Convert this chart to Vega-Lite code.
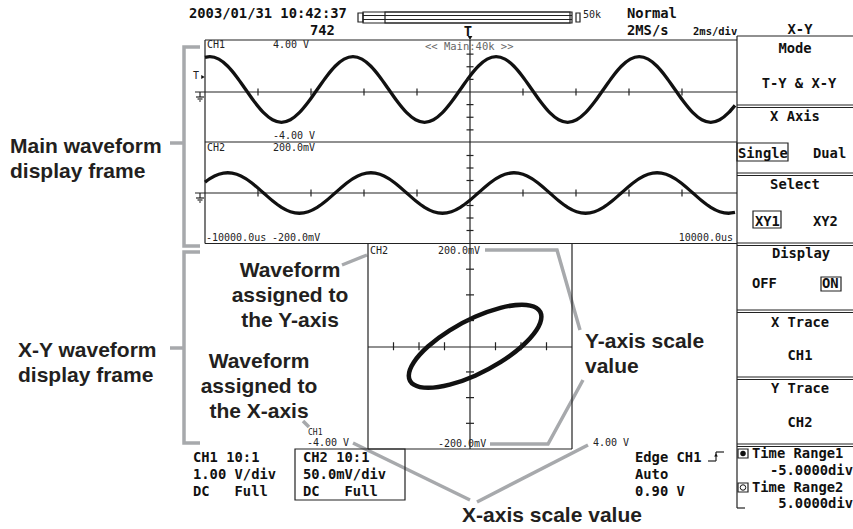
{
 "$schema": "https://vega.github.io/schema/vega-lite/v6.json",
 "width": 853, "height": 529, "padding": 0, "autosize": {"type": "none"},
 "background": "#ffffff",
 "config": {"view": {"stroke": null}},
 "datasets": {
  "wave": [
   {"t":-10,"ch1":2.74,"ch2":43.7},
   {"t":-9.815,"ch1":2.8,"ch2":57.3},{"t":-9.4775,"ch1":2.602,"ch2":74.8},{"t":-9.14,"ch1":2.038,"ch2":81},{"t":-8.8025,"ch1":1.195,"ch2":74.8},
   {"t":-8.465,"ch1":0.2,"ch2":57.3},{"t":-8.1275,"ch1":-0.795,"ch2":31},{"t":-7.79,"ch1":-1.638,"ch2":0},{"t":-7.4525,"ch1":-2.202,"ch2":-31},
   {"t":-7.115,"ch1":-2.4,"ch2":-57.3},{"t":-6.7775,"ch1":-2.202,"ch2":-74.8},{"t":-6.44,"ch1":-1.638,"ch2":-81},{"t":-6.1025,"ch1":-0.795,"ch2":-74.8},
   {"t":-5.765,"ch1":0.2,"ch2":-57.3},{"t":-5.4275,"ch1":1.195,"ch2":-31},{"t":-5.09,"ch1":2.038,"ch2":0},{"t":-4.7525,"ch1":2.602,"ch2":31},
   {"t":-4.415,"ch1":2.8,"ch2":57.3},{"t":-4.0775,"ch1":2.602,"ch2":74.8},{"t":-3.74,"ch1":2.038,"ch2":81},{"t":-3.4025,"ch1":1.195,"ch2":74.8},
   {"t":-3.065,"ch1":0.2,"ch2":57.3},{"t":-2.7275,"ch1":-0.795,"ch2":31},{"t":-2.39,"ch1":-1.638,"ch2":0},{"t":-2.0525,"ch1":-2.202,"ch2":-31},
   {"t":-1.715,"ch1":-2.4,"ch2":-57.3},{"t":-1.3775,"ch1":-2.202,"ch2":-74.8},{"t":-1.04,"ch1":-1.638,"ch2":-81},{"t":-0.7025,"ch1":-0.795,"ch2":-74.8},
   {"t":-0.365,"ch1":0.2,"ch2":-57.3},{"t":-0.0275,"ch1":1.195,"ch2":-31},{"t":0.31,"ch1":2.038,"ch2":0},{"t":0.6475,"ch1":2.602,"ch2":31},
   {"t":0.985,"ch1":2.8,"ch2":57.3},{"t":1.3225,"ch1":2.602,"ch2":74.8},{"t":1.66,"ch1":2.038,"ch2":81},{"t":1.9975,"ch1":1.195,"ch2":74.8},
   {"t":2.335,"ch1":0.2,"ch2":57.3},{"t":2.6725,"ch1":-0.795,"ch2":31},{"t":3.01,"ch1":-1.638,"ch2":0},{"t":3.3475,"ch1":-2.202,"ch2":-31},
   {"t":3.685,"ch1":-2.4,"ch2":-57.3},{"t":4.0225,"ch1":-2.202,"ch2":-74.8},{"t":4.36,"ch1":-1.638,"ch2":-81},{"t":4.6975,"ch1":-0.795,"ch2":-74.8},
   {"t":5.035,"ch1":0.2,"ch2":-57.3},{"t":5.3725,"ch1":1.195,"ch2":-31},{"t":5.71,"ch1":2.038,"ch2":0},{"t":6.0475,"ch1":2.602,"ch2":31},
   {"t":6.385,"ch1":2.8,"ch2":57.3},{"t":6.7225,"ch1":2.602,"ch2":74.8},{"t":7.06,"ch1":2.038,"ch2":81},{"t":7.3975,"ch1":1.195,"ch2":74.8},
   {"t":7.735,"ch1":0.2,"ch2":57.3},{"t":8.0725,"ch1":-0.795,"ch2":31},{"t":8.41,"ch1":-1.638,"ch2":0},{"t":8.7475,"ch1":-2.202,"ch2":-31},
   {"t":9.085,"ch1":-2.4,"ch2":-57.3},{"t":9.4225,"ch1":-2.202,"ch2":-74.8},{"t":9.76,"ch1":-1.638,"ch2":-81},
   {"t":10,"ch1":-1.06,"ch2":-77.9}
  ],
  "tt": [{"t":-8,"ch1":0,"ch2":0},{"t":-6,"ch1":0,"ch2":0},{"t":-4,"ch1":0,"ch2":0},{"t":-2,"ch1":0,"ch2":0},{"t":2,"ch1":0,"ch2":0},{"t":4,"ch1":0,"ch2":0},{"t":6,"ch1":0,"ch2":0},{"t":8,"ch1":0,"ch2":0}],
  "vt": [{"t":0,"ch1":-3,"ch2":0},{"t":0,"ch1":-2,"ch2":0},{"t":0,"ch1":-1,"ch2":0},{"t":0,"ch1":1,"ch2":0},{"t":0,"ch1":2,"ch2":0},{"t":0,"ch1":3,"ch2":0}],
  "mt": [{"t":0,"ch1":0,"ch2":-150},{"t":0,"ch1":0,"ch2":-100},{"t":0,"ch1":0,"ch2":-50},{"t":0,"ch1":0,"ch2":50},{"t":0,"ch1":0,"ch2":100},{"t":0,"ch1":0,"ch2":150}],
  "scope": [
   {"x":205,"y":40,"x2":737,"y2":40},{"x":205,"y":142,"x2":737,"y2":142},{"x":205,"y":243.5,"x2":737,"y2":243.5},
   {"x":205,"y":40,"x2":205,"y2":243.5},{"x":195,"y":92,"x2":737,"y2":92},{"x":195,"y":193,"x2":737,"y2":193},
   {"x":470,"y":40,"x2":470,"y2":449},{"x":368,"y":243.5,"x2":368,"y2":449},{"x":572,"y":243.5,"x2":572,"y2":449},
   {"x":368,"y":449,"x2":572,"y2":449},{"x":368,"y":347,"x2":572,"y2":347},
   {"x":737,"y":36,"x2":737,"y2":508},{"x":737,"y":36,"x2":853,"y2":36},{"x":737,"y":508,"x2":745,"y2":508},
   {"x":737,"y":105,"x2":853,"y2":105},{"x":737,"y":107.5,"x2":853,"y2":107.5},
   {"x":737,"y":173,"x2":853,"y2":173},{"x":737,"y":175.5,"x2":853,"y2":175.5},
   {"x":737,"y":243,"x2":853,"y2":243},{"x":737,"y":245.5,"x2":853,"y2":245.5},
   {"x":737,"y":310,"x2":853,"y2":310},{"x":737,"y":312.5,"x2":853,"y2":312.5},
   {"x":737,"y":377,"x2":853,"y2":377},{"x":737,"y":379.5,"x2":853,"y2":379.5},
   {"x":737,"y":444,"x2":853,"y2":444},{"x":737,"y":446.5,"x2":853,"y2":446.5},
   {"x":200,"y":92,"x2":200,"y2":97},{"x":196,"y":97,"x2":204,"y2":97},{"x":197.5,"y":99,"x2":202.5,"y2":99},{"x":199,"y":101,"x2":201,"y2":101},
   {"x":200,"y":193,"x2":200,"y2":198},{"x":196,"y":198,"x2":204,"y2":198},{"x":197.5,"y":200,"x2":202.5,"y2":200},{"x":199,"y":202,"x2":201,"y2":202},
   {"x":363,"y":15.5,"x2":572,"y2":15.5},{"x":363,"y":19.5,"x2":572,"y2":19.5},
   {"x":708,"y":461,"x2":716,"y2":461},{"x":716,"y":461,"x2":716,"y2":452},{"x":716,"y":452,"x2":724,"y2":452}
  ],
  "boxes": [
   {"x":295,"y":449,"x2":405,"y2":500},{"x":737,"y":143,"x2":788,"y2":161},{"x":753,"y":211,"x2":781,"y2":228},
   {"x":821,"y":277,"x2":841,"y2":291},{"x":358,"y":13,"x2":363,"y2":22},{"x":363,"y":12,"x2":572,"y2":23},
   {"x":385,"y":12,"x2":570,"y2":23},{"x":576,"y":13,"x2":580,"y2":22},
   {"x":738,"y":449,"x2":748,"y2":458},{"x":738,"y":483,"x2":748,"y2":492}
  ],
  "anno": [
   {"g":1,"o":1,"x":200,"y":47},{"g":1,"o":2,"x":184,"y":47},{"g":1,"o":3,"x":184,"y":246},{"g":1,"o":4,"x":200,"y":246},
   {"g":2,"o":1,"x":170,"y":143},{"g":2,"o":2,"x":184,"y":143},
   {"g":3,"o":1,"x":200,"y":252},{"g":3,"o":2,"x":184,"y":252},{"g":3,"o":3,"x":184,"y":443},{"g":3,"o":4,"x":200,"y":443},
   {"g":4,"o":1,"x":170,"y":348},{"g":4,"o":2,"x":184,"y":348},
   {"g":5,"o":1,"x":342,"y":265},{"g":5,"o":2,"x":367,"y":255},
   {"g":6,"o":1,"x":303,"y":421},{"g":6,"o":2,"x":309,"y":427},
   {"g":7,"o":1,"x":485,"y":250},{"g":7,"o":2,"x":557,"y":250},{"g":7,"o":3,"x":580,"y":330},
   {"g":8,"o":1,"x":490,"y":444},{"g":8,"o":2,"x":548,"y":444},{"g":8,"o":3,"x":583,"y":380},
   {"g":9,"o":1,"x":353,"y":443},{"g":9,"o":2,"x":470,"y":500},
   {"g":10,"o":1,"x":588,"y":445},{"g":10,"o":2,"x":477,"y":502}
  ],
  "tmain": [
   {"x":189,"y":18,"label":"2003/01/31 10:42:37"},{"x":310,"y":35,"label":"742"},
   {"x":627,"y":18,"label":"Normal"},{"x":627,"y":35,"label":"2MS/s"},
   {"x":193,"y":462,"label":"CH1 10:1"},{"x":193,"y":479,"label":"1.00 V/div"},{"x":193,"y":496,"label":"DC\u00a0\u00a0\u00a0Full"},
   {"x":303,"y":462,"label":"CH2 10:1"},{"x":303,"y":479,"label":"50.0mV/div"},{"x":303,"y":496,"label":"DC\u00a0\u00a0\u00a0Full"},
   {"x":635,"y":462,"label":"Edge CH1"},{"x":635,"y":479,"label":"Auto"},{"x":635,"y":496,"label":"0.90 V"},
   {"x":738,"y":158,"label":"Single"},{"x":813,"y":158,"label":"Dual"},
   {"x":755,"y":226,"label":"XY1"},{"x":813,"y":226,"label":"XY2"},
   {"x":752,"y":288,"label":"OFF"},{"x":822,"y":288,"label":"ON"},
   {"x":752,"y":458,"label":"Time Range1"},{"x":752,"y":492,"label":"Time Range2"}
  ],
  "tmainc": [
   {"x":800,"y":34,"label":"X-Y"},{"x":795,"y":53,"label":"Mode"},{"x":799,"y":88,"label":"T-Y & X-Y"},
   {"x":795,"y":121,"label":"X Axis"},{"x":795,"y":189,"label":"Select"},{"x":801,"y":258,"label":"Display"},
   {"x":800,"y":327,"label":"X Trace"},{"x":800,"y":360,"label":"CH1"},{"x":800,"y":393,"label":"Y Trace"},
   {"x":800,"y":427,"label":"CH2"},{"x":468,"y":36,"label":"T"}
  ],
  "tmainr": [{"x":853,"y":475,"label":"-5.0000div"},{"x":853,"y":508,"label":"5.0000div"}],
  "tdiv": [{"x":693,"y":35,"label":"2ms/div"}],
  "tsmall": [
   {"x":207,"y":48,"label":"CH1"},{"x":273,"y":48,"label":"4.00 V"},{"x":273,"y":139,"label":"-4.00 V"},
   {"x":207,"y":151,"label":"CH2"},{"x":273,"y":151,"label":"200.0mV"},{"x":206,"y":241,"label":"-10000.0us"},
   {"x":272,"y":241,"label":"-200.0mV"},{"x":370,"y":254,"label":"CH2"},{"x":438,"y":254,"label":"200.0mV"},
   {"x":307,"y":446,"label":"-4.00 V"},{"x":438,"y":447,"label":"-200.0mV"},
   {"x":593,"y":446,"label":"4.00 V"},{"x":583,"y":18,"label":"50k"},{"x":193,"y":79,"label":"T"}
  ],
  "ttiny": [{"x":308,"y":435,"label":"CH1"}],
  "tsmallr": [{"x":733,"y":241,"label":"10000.0us"}],
  "tgray": [{"x":425,"y":50,"label":"<< Main:40k >>"}],
  "tanno": [
   {"x":10,"y":153,"label":"Main waveform"},{"x":10,"y":178,"label":"display frame"},
   {"x":18,"y":357,"label":"X-Y waveform"},{"x":18,"y":382,"label":"display frame"},
   {"x":585,"y":348,"label":"Y-axis scale"},{"x":585,"y":373,"label":"value"}
  ],
  "tannoc": [
   {"x":290,"y":277,"label":"Waveform"},{"x":290,"y":302,"label":"assigned to"},{"x":290,"y":327,"label":"the Y-axis"},
   {"x":259,"y":368,"label":"Waveform"},{"x":259,"y":393,"label":"assigned to"},{"x":259,"y":418,"label":"the X-axis"},
   {"x":552,"y":522,"label":"X-axis scale value"}
  ],
  "tridown": [{"x":470,"y":38}],
  "triright": [{"x":203,"y":77}],
  "triup": [{"x":716,"y":455}],
  "dotfilled": [{"x":743,"y":453.5}],
  "dotopen": [{"x":743,"y":487.5}]
 },
 "resolve": {"scale": {"x": "independent", "y": "independent"}},
 "layer": [
  {
   "encoding": {
    "x": {"field":"x","type":"quantitative","scale":{"domain":[0,853],"range":[0,853],"nice":false,"zero":false},"axis":null},
    "y": {"field":"y","type":"quantitative","scale":{"domain":[0,529],"range":[0,529],"nice":false,"zero":false},"axis":null}
   },
   "layer": [
    {"data":{"name":"anno"},"mark":{"type":"line","color":"#a7a9ac","strokeWidth":3.5},"encoding":{"detail":{"field":"g"},"order":{"field":"o"}}},
    {"data":{"name":"scope"},"mark":{"type":"rule","color":"#222222","strokeWidth":1.2},"encoding":{"x2":{"field":"x2"},"y2":{"field":"y2"}}},
    {"data":{"name":"boxes"},"mark":{"type":"rect","filled":false,"color":"#222222","strokeWidth":1.2},"encoding":{"x2":{"field":"x2"},"y2":{"field":"y2"}}},
    {"data":{"name":"tridown"},"mark":{"type":"point","shape":"triangle-down","filled":true,"size":22,"color":"#111111","opacity":1},"encoding":{}},
    {"data":{"name":"triright"},"mark":{"type":"point","shape":"triangle-right","filled":true,"size":16,"color":"#111111","opacity":1},"encoding":{}},
    {"data":{"name":"triup"},"mark":{"type":"point","shape":"triangle-up","filled":true,"size":14,"color":"#111111","opacity":1},"encoding":{}},
    {"data":{"name":"dotfilled"},"mark":{"type":"point","shape":"circle","filled":true,"size":30,"color":"#111111","opacity":1},"encoding":{}},
    {"data":{"name":"dotopen"},"mark":{"type":"point","shape":"circle","filled":false,"size":30,"color":"#111111","strokeWidth":1,"opacity":1},"encoding":{}},
    {"data":{"name":"tmain"},"mark":{"type":"text","font":"DejaVu Sans Mono","fontSize":13.8,"fontWeight":"bold","align":"left","baseline":"alphabetic","color":"#111111"},"encoding":{"text":{"field":"label"}}},
    {"data":{"name":"tmainc"},"mark":{"type":"text","font":"DejaVu Sans Mono","fontSize":13.8,"fontWeight":"bold","align":"center","baseline":"alphabetic","color":"#111111"},"encoding":{"text":{"field":"label"}}},
    {"data":{"name":"tmainr"},"mark":{"type":"text","font":"DejaVu Sans Mono","fontSize":13.8,"fontWeight":"bold","align":"right","baseline":"alphabetic","color":"#111111"},"encoding":{"text":{"field":"label"}}},
    {"data":{"name":"tdiv"},"mark":{"type":"text","font":"DejaVu Sans Mono","fontSize":10.5,"fontWeight":"bold","align":"left","baseline":"alphabetic","color":"#111111"},"encoding":{"text":{"field":"label"}}},
    {"data":{"name":"tsmall"},"mark":{"type":"text","font":"DejaVu Sans Mono","fontSize":10,"align":"left","baseline":"alphabetic","color":"#222222"},"encoding":{"text":{"field":"label"}}},
    {"data":{"name":"ttiny"},"mark":{"type":"text","font":"DejaVu Sans Mono","fontSize":8,"align":"left","baseline":"alphabetic","color":"#222222"},"encoding":{"text":{"field":"label"}}},
    {"data":{"name":"tsmallr"},"mark":{"type":"text","font":"DejaVu Sans Mono","fontSize":10,"align":"right","baseline":"alphabetic","color":"#222222"},"encoding":{"text":{"field":"label"}}},
    {"data":{"name":"tgray"},"mark":{"type":"text","font":"DejaVu Sans Mono","fontSize":10.5,"align":"left","baseline":"alphabetic","color":"#666666"},"encoding":{"text":{"field":"label"}}},
    {"data":{"name":"tanno"},"mark":{"type":"text","font":"Liberation Sans","fontSize":21,"fontWeight":"bold","align":"left","baseline":"alphabetic","color":"#231f20"},"encoding":{"text":{"field":"label"}}},
    {"data":{"name":"tannoc"},"mark":{"type":"text","font":"Liberation Sans","fontSize":21,"fontWeight":"bold","align":"center","baseline":"alphabetic","color":"#231f20"},"encoding":{"text":{"field":"label"}}}
   ]
  },
  {
   "encoding": {
    "x": {"field":"t","type":"quantitative","scale":{"domain":[-10,10],"range":[205,735],"nice":false,"zero":false},"axis":null},
    "y": {"field":"ch1","type":"quantitative","scale":{"domain":[-4,4],"range":[142.5,41.5],"nice":false,"zero":false},"axis":null}
   },
   "layer": [
    {"data":{"name":"wave"},"mark":{"type":"line","color":"#111111","strokeWidth":3.3,"interpolate":"monotone"},"encoding":{"order":{"field":"t"}}},
    {"data":{"name":"tt"},"mark":{"type":"tick","orient":"vertical","size":7,"thickness":1.2,"color":"#222222","opacity":1},"encoding":{}},
    {"data":{"name":"vt"},"mark":{"type":"tick","orient":"horizontal","size":7,"thickness":1.2,"color":"#222222","opacity":1},"encoding":{}}
   ]
  },
  {
   "encoding": {
    "x": {"field":"t","type":"quantitative","scale":{"domain":[-10,10],"range":[205,735],"nice":false,"zero":false},"axis":null},
    "y": {"field":"ch2","type":"quantitative","scale":{"domain":[-200,200],"range":[243,143],"nice":false,"zero":false},"axis":null}
   },
   "layer": [
    {"data":{"name":"wave"},"mark":{"type":"line","color":"#111111","strokeWidth":3.3,"interpolate":"monotone"},"encoding":{"order":{"field":"t"}}},
    {"data":{"name":"tt"},"mark":{"type":"tick","orient":"vertical","size":7,"thickness":1.2,"color":"#222222","opacity":1},"encoding":{}},
    {"data":{"name":"mt"},"mark":{"type":"tick","orient":"horizontal","size":7,"thickness":1.2,"color":"#222222","opacity":1},"encoding":{}}
   ]
  },
  {
   "encoding": {
    "x": {"field":"ch1","type":"quantitative","scale":{"domain":[-4,4],"range":[368,572],"nice":false,"zero":false},"axis":null},
    "y": {"field":"ch2","type":"quantitative","scale":{"domain":[-200,200],"range":[449,243.5],"nice":false,"zero":false},"axis":null}
   },
   "layer": [
    {"data":{"name":"wave"},"transform":[{"filter":"datum.t > -4.5 && datum.t < 0.7"}],"mark":{"type":"line","color":"#111111","strokeWidth":4.5,"interpolate":"cardinal-closed"},"encoding":{"order":{"field":"t"}}},
    {"data":{"name":"vt"},"mark":{"type":"tick","orient":"vertical","size":8,"thickness":1.2,"color":"#222222","opacity":1},"encoding":{}},
    {"data":{"name":"mt"},"mark":{"type":"tick","orient":"horizontal","size":8,"thickness":1.2,"color":"#222222","opacity":1},"encoding":{}}
   ]
  }
 ]
}
